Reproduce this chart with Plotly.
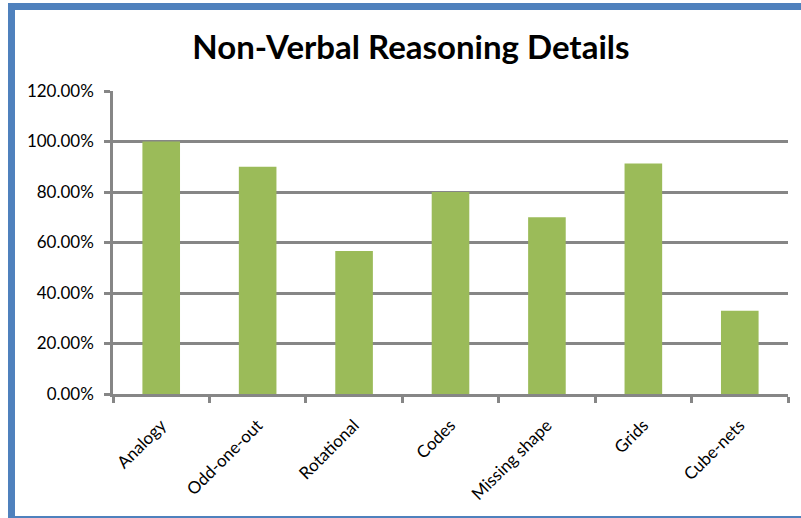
import plotly.graph_objects as go

# Chart data
categories = ["Analogy", "Odd-one-out", "Rotational", "Codes",
              "Missing shape", "Grids", "Cube-nets"]
scores = [1.00, 0.90, 0.5667, 0.80, 0.70, 0.9130, 0.33]
y_ticks = [0, 0.2, 0.4, 0.6, 0.8, 1.0, 1.2]

grey = "#868686"
font_family = "Lato, 'Open Sans', sans-serif"

fig = go.Figure(go.Bar(
    x=categories,
    y=scores,
    marker=dict(color="#9BBB59", line=dict(width=0)),
    width=0.39,
))

# Plot area and background
fig.update_layout(
    width=801,
    height=518,
    plot_bgcolor="white",
    paper_bgcolor="white",
    margin=dict(l=113, r=13, t=91, b=124),
    showlegend=False,
    font=dict(family=font_family, color="black"),
    title=dict(
        text="<b>Non-Verbal Reasoning Details</b>",
        x=0.513, xanchor="center",
        y=1 - 47 / 518, yanchor="middle",
        font=dict(size=33, family=font_family, color="black"),
    ),
)

# Axes: grey lines, outside ticks, percentage labels
fig.update_yaxes(
    range=[0, 1.2],
    tickvals=y_ticks,
    tickformat=".2%",
    showgrid=True, gridcolor=grey, gridwidth=2.5,
    showline=True, linecolor=grey, linewidth=2.5,
    ticks="outside", ticklen=6, tickwidth=2.5, tickcolor=grey,
    tickfont=dict(size=17, color="black"),
    ticklabelstandoff=7,
    zeroline=False,
)
fig.update_xaxes(
    tickangle=-45,
    tickson="boundaries",
    showgrid=False,
    showline=True, linecolor=grey, linewidth=2.5,
    ticks="outside", ticklen=6, tickwidth=2.5, tickcolor=grey,
    tickfont=dict(size=17, color="black"),
    ticklabelstandoff=12,
)

# Blue chart border like the Excel frame (right side is cut off in the picture)
# drawn as an open path: top, left and bottom edges only
def px_x(v):
    return (v - 113) / 675

def px_y(v):
    return (394 - v) / 303

fig.add_shape(
    type="path", xref="paper", yref="paper",
    path=(f"M {px_x(830)},{px_y(6.5)} L {px_x(11.5)},{px_y(6.5)} "
          f"L {px_x(11.5)},{px_y(519.5)} L {px_x(830)},{px_y(519.5)}"),
    line=dict(color="#4F81BD", width=7),
    layer="above",
)

# drop the default page margin so the figure sits at the window origin
fig.write_html("out.html", config={"displayModeBar": False},
               post_script="document.body.style.margin = '0';")
